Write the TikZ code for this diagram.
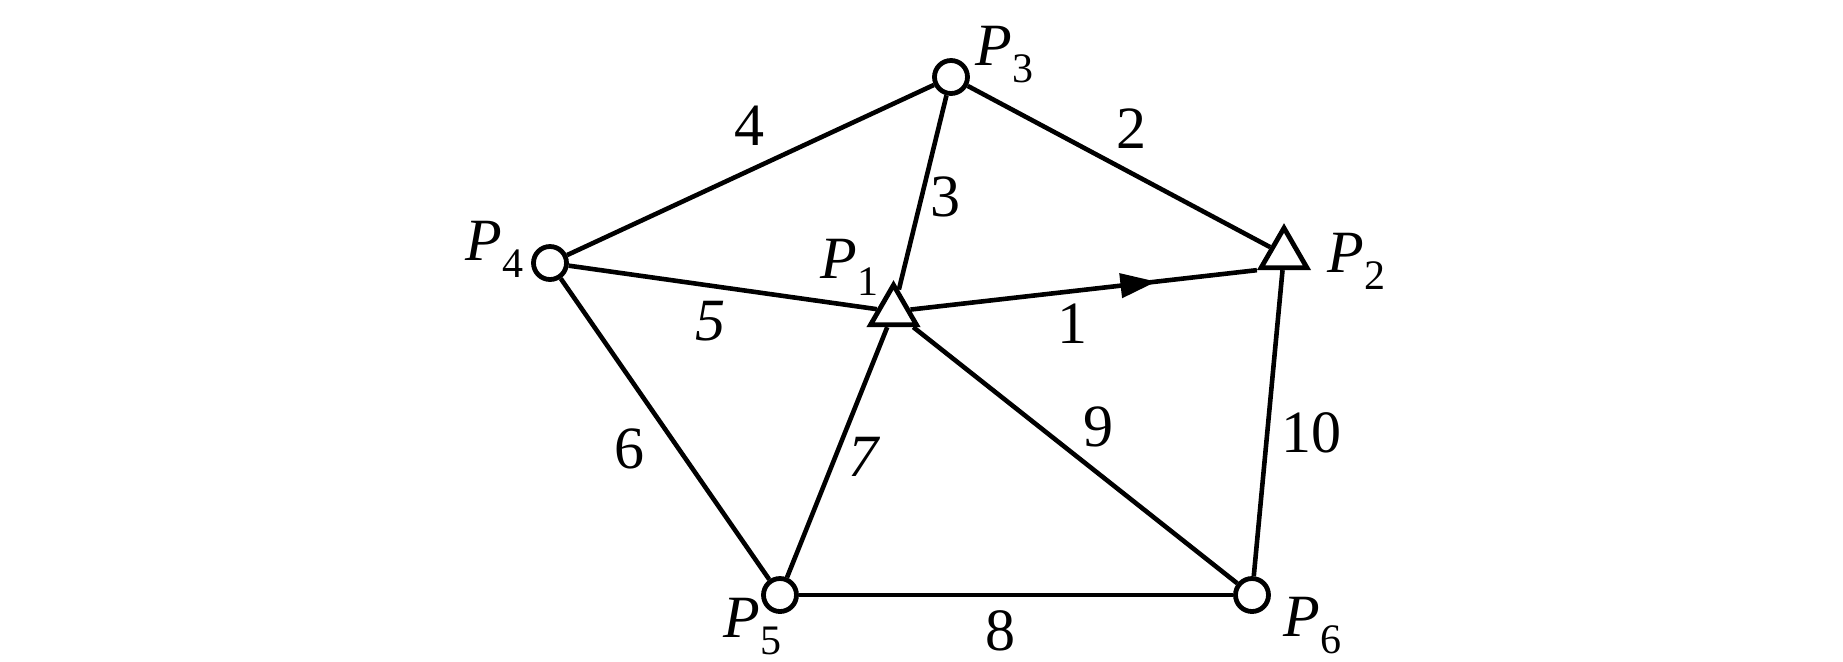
\documentclass[tikz,border=0pt]{standalone}
\usepackage{fontspec}
\setmainfont{Liberation Serif}
\usetikzlibrary{shapes.geometric,arrows.meta,decorations.markings}
\newcommand\plabtxt[1]{\textit{P}\raisebox{-8.5pt}{\fontsize{21}{21}\selectfont #1}}
\begin{document}
\begin{tikzpicture}[x=0.5pt,y=-0.5pt,
  vtx/.style={circle,draw,fill=white,line width=2.4pt,minimum size=16.5pt,inner sep=0pt},
  tri/.style={regular polygon,regular polygon sides=3,draw,fill=white,line width=2.4pt,minimum size=26.5pt,inner sep=0pt},
  edge/.style={line width=2.3pt},
  num/.style={font=\fontsize{30}{30}\selectfont,inner sep=0pt},
  plab/.style={font=\fontsize{30}{30}\selectfont,inner sep=0pt,anchor=base west}]
\useasboundingbox (0,0) rectangle (1843,661);
\node[vtx] (p3) at (951,77) {};
\node[vtx] (p4) at (550,263) {};
\node[vtx] (p5) at (780,595) {};
\node[vtx] (p6) at (1252,595) {};
\node[tri] (p1) at (893.5,311.5) {};
\node[tri] (p2) at (1284,254.5) {};
\draw[edge] (p4) -- (p3);
\draw[edge] (p3) -- (p2);
\draw[edge] (p3) -- (p1);
\draw[edge] (p4) -- (p1);
\draw[edge] (p4) -- (p5);
\draw[edge] (p1) -- (p5);
\draw[edge] (p1) -- (p6);
\draw[edge] (p5) -- (p6);
\draw[edge] (p2) -- (p6);
\draw[edge,postaction={decorate},decoration={markings,mark=at position 0.71 with {\arrow{Triangle[length=18pt,width=12pt]}}}] (p1) -- (p2.corner 2);
\node[plab] (l3) at (975,65) {\plabtxt{3}};
\node[plab] (l2) at (1327,272) {\plabtxt{2}};
\node[plab] (l4) at (465,260) {\plabtxt{4}};
\node[plab] (l5) at (723,637) {\plabtxt{5}};
\node[plab] (l6) at (1283,636) {\plabtxt{6}};
\node[plab] (l1) at (820,278) {\plabtxt{1}};
\node[num] (n4) at (749,126) {4};
\node[num] (n2) at (1131,129) {2};
\node[num] (n3) at (945,197) {3};
\node[num] (n5) at (710,321) {\textit{5}};
\node[num] (n1) at (1072,324) {1};
\node[num] (n9) at (1098,427) {9};
\node[num] (n10) at (1311,433) {10};
\node[num] (n6) at (629,449) {6};
\node[num] (n7) at (865,457) {\textit{7}};
\node[num] (n8) at (1000,631) {8};
\end{tikzpicture}
\end{document}
